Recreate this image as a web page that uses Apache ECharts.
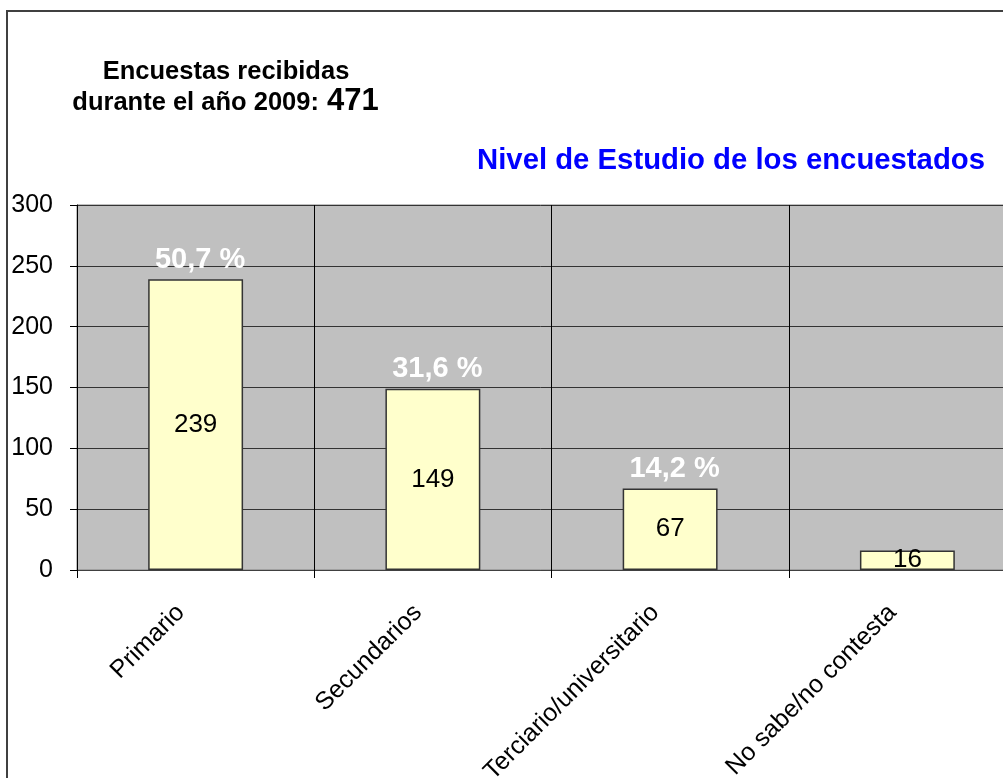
<!DOCTYPE html>
<html style="height: 100%">
<head>
<meta charset="utf-8">
</head>
<body style="height: 100%; margin: 0; background: #fff">
<div id="container" style="width: 1003px; height: 778px"></div>
<script type="text/javascript" src="https://cdn.jsdelivr.net/npm/echarts/dist/echarts.min.js"></script>
<script type="text/javascript">
var dom = document.getElementById("container");
var myChart = echarts.init(dom);

// niveles de estudio
var categorias = ['Primario', 'Secundarios', 'Terciario/universitario', 'No sabe/no contesta'];
var encuestados = [239, 149, 67, 16];
var porcentajes = ['50,7 %', '31,6 %', '14,2 %', ''];
var ticksY = [0, 300, 50]; // min, max, intervalo

var fuente = 'Liberation Sans';

var option = {
    animation: false,
    graphic: [
        {
            type: 'rect',
            z: -10,
            shape: {x: 7, y: 11, width: 1200, height: 1000},
            style: {fill: 'none', stroke: '#404040', lineWidth: 2}
        },
        {
            type: 'text',
            x: 226, y: 72,
            style: {
                text: 'Encuestas recibidas',
                font: 'bold 25.5px ' + fuente,
                fill: '#000',
                align: 'center',
                verticalAlign: 'middle'
            }
        },
        {
            type: 'text',
            x: 326, y: 103,
            style: {
                text: 'durante el año 2009: ',
                font: 'bold 25.5px ' + fuente,
                fill: '#000',
                align: 'right',
                verticalAlign: 'middle'
            }
        },
        {
            type: 'text',
            x: 327, y: 101,
            style: {
                text: '471',
                font: 'bold 31px ' + fuente,
                fill: '#000',
                align: 'left',
                verticalAlign: 'middle'
            }
        },
        {
            type: 'text',
            x: 985, y: 161,
            style: {
                text: 'Nivel de Estudio de los encuestados',
                font: 'bold 29.3px ' + fuente,
                fill: '#0000FF',
                align: 'right',
                verticalAlign: 'middle'
            }
        }
    ],
    grid: {
        left: 77,
        top: 205,
        width: 949,
        height: 365,
        outerBoundsMode: 'none',
        containLabel: false,
        show: true,
        backgroundColor: '#C0C0C0',
        borderColor: '#808080',
        borderWidth: 1
    },
    xAxis: {
        type: 'category',
        data: categorias,
        axisLine: {lineStyle: {color: '#404040', width: 1}},
        axisTick: {show: true, length: 8, lineStyle: {color: '#000'}},
        splitLine: {show: true, lineStyle: {color: '#000', width: 1}},
        axisLabel: {
            rotate: 45,
            margin: 24,
            padding: [0, 21, 0, 0],
            interval: 0,
            fontFamily: fuente,
            fontSize: 25,
            color: '#000'
        }
    },
    yAxis: {
        type: 'value',
        min: ticksY[0],
        max: ticksY[1],
        interval: ticksY[2],
        axisLine: {show: true, lineStyle: {color: '#000', width: 1}},
        axisTick: {show: true, length: 7, lineStyle: {color: '#000'}},
        splitLine: {show: true, lineStyle: {color: '#333', width: 1}},
        axisLabel: {
            margin: 24,
            fontFamily: fuente,
            fontSize: 25,
            color: '#000'
        }
    },
    series: [
        {
            type: 'bar',
            data: encuestados,
            barWidth: '40%',
            itemStyle: {color: '#FFFFCC', borderColor: '#333', borderWidth: 1.5},
            label: {
                show: true,
                position: 'inside',
                fontFamily: fuente,
                fontSize: 26,
                color: '#000'
            }
        },
        {
            // solo para los porcentajes sobre cada barra
            type: 'bar',
            data: encuestados,
            barWidth: '40%',
            barGap: '-100%',
            itemStyle: {color: 'transparent'},
            label: {
                show: true,
                position: 'top',
                distance: 5,
                padding: [0, 0, 0, 9],
                fontFamily: fuente,
                fontWeight: 'bold',
                fontSize: 29,
                color: '#FFFFFF',
                formatter: function (p) { return porcentajes[p.dataIndex]; }
            }
        }
    ]
};
myChart.setOption(option, true);
</script>
</body>
</html>
